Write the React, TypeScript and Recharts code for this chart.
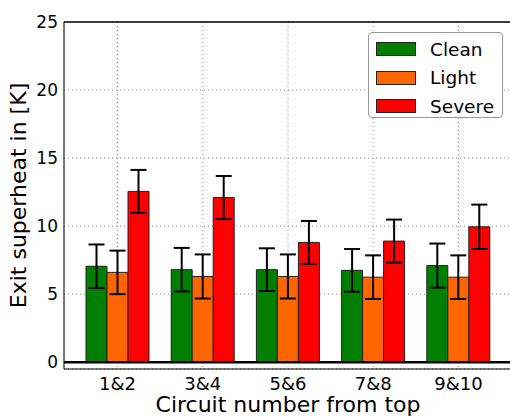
import {
  Bar,
  BarChart,
  CartesianGrid,
  ErrorBar,
  Label,
  ReferenceLine,
  XAxis,
  YAxis,
} from 'recharts'

const circuits = ['1&2', '3&4', '5&6', '7&8', '9&10']
const clean = [7.05, 6.8, 6.8, 6.75, 7.1]
const light = [6.6, 6.3, 6.3, 6.25, 6.25]
const severe = [12.55, 12.1, 8.8, 8.9, 9.95]
const cleanErr = [1.6, 1.6, 1.57, 1.57, 1.62]
const lightErr = [1.6, 1.62, 1.62, 1.6, 1.6]
const severeErr = [1.58, 1.58, 1.58, 1.58, 1.63]
const yTicks = [0, 5, 10, 15, 20, 25]

const series = [
  { key: 'clean', err: 'cleanErr', name: 'Clean', color: '#007f00' },
  { key: 'light', err: 'lightErr', name: 'Light', color: '#ff6600' },
  { key: 'severe', err: 'severeErr', name: 'Severe', color: '#ff0000' },
]

const rows = circuits.map((name, i) => ({
  name,
  clean: clean[i],
  light: light[i],
  severe: severe[i],
  cleanErr: cleanErr[i],
  lightErr: lightErr[i],
  severeErr: severeErr[i],
}))

const font = 'DejaVu Sans, sans-serif'

// matplotlib style legend box, sits over the top-right of the plot
function LegendBox() {
  return (
    <div
      style={{
        position: 'absolute',
        left: 368,
        top: 32,
        width: 135,
        height: 86,
        border: '1px solid #999',
        borderRadius: 4,
        background: '#fff',
        fontFamily: font,
        fontSize: 18.5,
        color: '#000',
        boxSizing: 'border-box',
        padding: '2px 0 0 7px',
      }}
    >
      {series.map((s) => (
        <div key={s.key} style={{ display: 'flex', alignItems: 'center', height: 28.5 }}>
          <span
            style={{
              display: 'inline-block',
              width: 40,
              height: 14,
              background: s.color,
              border: '1px solid #222',
              boxSizing: 'border-box',
              marginRight: 14,
            }}
          />
          {s.name}
        </div>
      ))}
    </div>
  )
}

export default function App() {
  return (
    <div
      style={{
        position: 'fixed',
        left: 0,
        top: 0,
        width: 510,
        height: 416,
        overflow: 'hidden',
        background: '#fff',
      }}
    >
      <BarChart
        width={520}
        height={416}
        data={rows}
        margin={{ top: 22, right: 8, left: 0, bottom: 0 }}
        barGap={0}
        barSize={21}
      >
        <CartesianGrid stroke="#888" strokeDasharray="1 3" strokeWidth={1} />
        <XAxis
          dataKey="name"
          height={47}
          padding={{ left: 11, right: 11 }}
          tick={{ fontSize: 18, fill: '#000', fontFamily: font }}
          tickLine={false}
          tickSize={0}
          tickMargin={8}
          axisLine={{ stroke: '#000', strokeWidth: 1 }}
        >
          <Label
            value="Circuit number from top"
            position="insideBottom"
            offset={4}
            style={{ fontSize: 22, fill: '#000', fontFamily: font }}
          />
        </XAxis>
        <YAxis
          width={64}
          domain={[-0.5, 25]}
          ticks={yTicks}
          allowDataOverflow
          tick={{ fontSize: 17, fill: '#000', fontFamily: font }}
          tickLine={false}
          tickSize={0}
          tickMargin={6}
          axisLine={{ stroke: '#000', strokeWidth: 1 }}
        >
          <Label
            value="Exit superheat in [K]"
            angle={-90}
            position="center"
            dx={-14}
            style={{ fontSize: 22, fill: '#000', fontFamily: font, textAnchor: 'middle' }}
          />
        </YAxis>
        <ReferenceLine y={25} stroke="#000" strokeWidth={1.5} />
        {series.map((s) => (
          <Bar
            key={s.key}
            dataKey={s.key}
            name={s.name}
            fill={s.color}
            stroke="#222"
            strokeWidth={1}
            isAnimationActive={false}
          >
            <ErrorBar dataKey={s.err} direction="y" width={8} stroke="#000" strokeWidth={2} />
          </Bar>
        ))}
        <ReferenceLine y={0} stroke="#000" strokeWidth={2.5} />
      </BarChart>
      <LegendBox />
    </div>
  )
}
